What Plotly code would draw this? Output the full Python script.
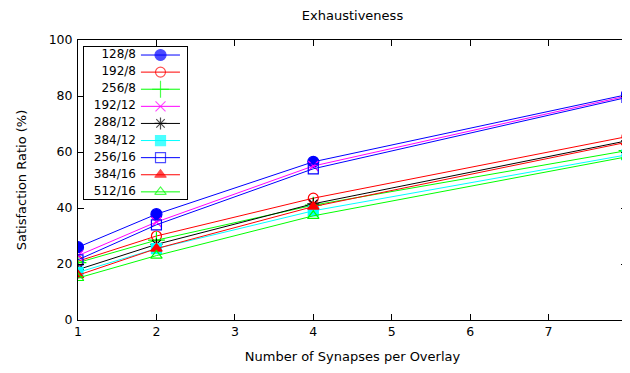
import plotly.graph_objects as go

x_vals = [1, 2, 4, 8]
x_ticks = [1, 2, 3, 4, 5, 6, 7, 8]
y_ticks = [0, 20, 40, 60, 80, 100]
names = ["128/8", "192/8", "256/8", "192/12", "288/12", "384/12", "256/16", "384/16", "512/16"]
s_128_8 = [26, 37.8, 56.5, 80.5]
s_192_8 = [21, 30, 43.5, 65.5]
s_256_8 = [20.5, 28.5, 41, 60.5]
s_192_12 = [23, 35, 55, 80]
s_288_12 = [18, 27, 41.5, 64]
s_384_12 = [17, 25.5, 39, 59]
s_256_16 = [21.5, 34, 54, 79.5]
s_384_16 = [16, 25.5, 40.5, 63.5]
s_512_16 = [15, 23, 37.2, 58.3]
series = [s_128_8, s_192_8, s_256_8, s_192_12, s_288_12, s_384_12, s_256_16, s_384_16, s_512_16]

colors = ["#0000ff", "#ff0000", "#00ff00", "#ff00ff", "#000000", "#00ffff", "#0000ff", "#ff0000", "#00ff00"]
symbols = ["circle", "circle-open", "cross-thin-open", "x-thin-open", "asterisk-open",
           "square", "square-open", "triangle-up", "triangle-up-open"]
sizes = [11, 10, 12, 10, 10, 10, 10, 10, 10]

FONT = "DejaVu Sans"
FS = 13

fig = go.Figure()
for name, ys, c, sym, sz in zip(names, series, colors, symbols, sizes):
    fig.add_trace(go.Scatter(
        x=x_vals, y=ys, name=name, mode="lines+markers", showlegend=False,
        line=dict(color=c, width=1),
        marker=dict(symbol=sym, size=sz, color=c, line=dict(color=c, width=1.2)),
    ))

# gnuplot-style key (labels right-aligned, sample on the right) in an inset axis
for i, (name, c, sym, sz) in enumerate(zip(names, colors, symbols, sizes)):
    fig.add_trace(go.Scatter(
        x=[0.553, 0.743, 0.932], y=[i, i, i], mode="lines+markers", showlegend=False,
        xaxis="x2", yaxis="y2", hoverinfo="skip",
        line=dict(color=c, width=1),
        marker=dict(symbol=sym, size=[0, sz, 0], color=c, line=dict(color=c, width=1.2)),
    ))
fig.add_trace(go.Scatter(
    x=[0.505] * len(names), y=list(range(len(names))), mode="text", text=names,
    textposition="middle left", showlegend=False, xaxis="x2", yaxis="y2", hoverinfo="skip",
    textfont=dict(family=FONT, size=12, color="black"),
))

axis_common = dict(
    showline=True, linecolor="black", linewidth=1, mirror="allticks",
    ticks="inside", ticklen=6, tickcolor="black", showgrid=False, zeroline=False,
    tickfont=dict(family=FONT, size=12.5, color="black"), automargin=False,
    ticklabeloverflow="allow", tickmode="array",
)
fig.update_layout(
    xaxis=dict(range=[1, 8], tickvals=x_ticks, ticktext=[str(t) for t in x_ticks],
               title=dict(text="Number of Synapses per Overlay", standoff=13,
                          font=dict(family=FONT, size=FS, color="black")),
               **axis_common),
    yaxis=dict(range=[0, 100], tickvals=y_ticks, ticktext=[str(t) for t in y_ticks],
               ticklabelstandoff=2,
               title=dict(text="Satisfaction Ratio (%)", standoff=19,
                          font=dict(family=FONT, size=FS, color="black")),
               **axis_common),
    xaxis2=dict(domain=[0.0109, 0.1985], range=[0, 1], anchor="y2",
                showline=True, mirror=True, linecolor="black", linewidth=1,
                showticklabels=False, ticks="", showgrid=False, zeroline=False, automargin=False),
    yaxis2=dict(domain=[0.432, 0.976], range=[8.42, -0.485], anchor="x2",
                showline=True, mirror=True, linecolor="black", linewidth=1,
                showticklabels=False, ticks="", showgrid=False, zeroline=False, automargin=False),
    width=622, height=357,
    margin=dict(l=70, r=3, t=32, b=45),
    paper_bgcolor="white", plot_bgcolor="white",
    title=dict(text="Exhaustiveness", x=344.5 / 622, xanchor="center", y=0.979, yanchor="middle",
               font=dict(family=FONT, size=FS, color="black")),
    font=dict(family=FONT, size=FS, color="black"),
    showlegend=False,
)

fig.write_html("out.html")
